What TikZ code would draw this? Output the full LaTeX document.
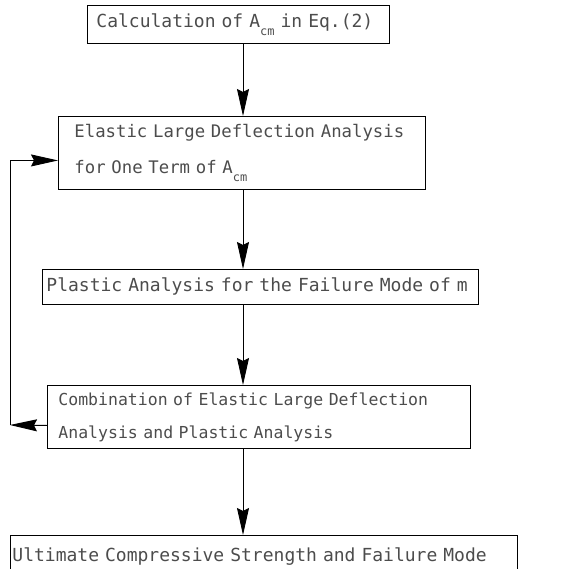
\documentclass[tikz,border=0pt]{standalone}
\usepackage{fontspec}
\setmonofont{DejaVu Sans Mono}
\usetikzlibrary{positioning}
\usetikzlibrary{arrows.meta}

\newcommand{\subidx}[1]{\raisebox{-0.8ex}{\fontsize{12}{12}\selectfont #1}}

\begin{document}
\begin{tikzpicture}[x=1pt, y=-1pt,
box/.style={rectangle, draw=black, line width=0.9pt, anchor=north west, align=left, text=black!70, font=\ttfamily\fontsize{18}{35}\selectfont},
flow/.style={-{Stealth[length=27pt, width=12pt, inset=3pt]}, line width=0.9pt},]

\useasboundingbox (0,0) rectangle (572,569);

\node[box, text width=284, inner xsep=9,  minimum height=38] (calc)    at (87,5)   {Calculation of A\subidx{cm} in Eq.(2)};
\node[box, text width=335, inner xsep=16, minimum height=73, font=\ttfamily\fontsize{17.3}{36}\selectfont] (elastic) at (58,116) {Elastic Large Deflection Analysis\\for One Term of A\subidx{cm}};
\node[box, text width=428, inner xsep=4,  minimum height=35] (plastic) at (42,269) {Plastic Analysis for the Failure Mode of m};
\node[box, text width=401, inner xsep=11, minimum height=63, font=\ttfamily\fontsize{16.5}{33}\selectfont] (combo) at (47,385) {Combination of Elastic Large Deflection\\Analysis and Plastic Analysis};
\node[box, text width=503, inner xsep=2,  minimum height=42] (ultim)   at (10,535) {Ultimate Compressive Strength and Failure Mode};

\coordinate (spine) at (243,0);
\coordinate (loop)  at (10,425);

\draw[flow] (calc.south -| spine) -- (elastic.north -| spine);
\draw[flow] (elastic.south -| spine) -- (plastic.north -| spine);
\draw[flow] (plastic.south -| spine) -- (combo.north -| spine);
\draw[flow] (combo.south -| spine) -- (ultim.north -| spine);

% iteration loop
\draw[flow] ([yshift=-8.5pt]combo.west) -- (loop);
\draw[flow] (loop) |- ([yshift=-7.5pt]elastic.west);

\end{tikzpicture}
\end{document}
